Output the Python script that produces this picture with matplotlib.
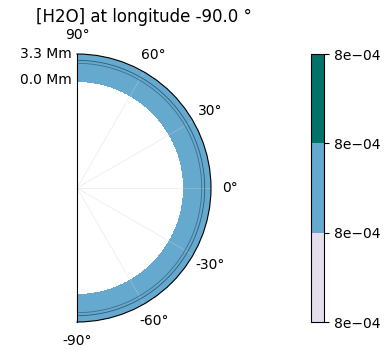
import matplotlib.pyplot as plt
import numpy as np
from matplotlib.colors import ListedColormap, BoundaryNorm

# Altitude levels (Mm above reference radius) and H2O mixing ratio per layer
r_ref = 13.7
alt_edges = [-0.25, 2.12, 2.5, 3.3]
h2o_layers = [8.0e-4, 8.0e-4, 8.0e-4]
lat_edges = np.linspace(-90, 90, 361)

levels = [7.97e-4, 7.99e-4, 8.01e-4, 8.03e-4]
level_labels = ['8e\u221204', '8e\u221204', '8e\u221204', '8e\u221204']
rtick_alts = [0.0, 3.3]
rtick_labels = ['0.0 Mm', '3.3 Mm']

base = plt.get_cmap('PuBuGn')
cmap = ListedColormap([base(1 / 6), base(0.5), base(5 / 6)])
norm = BoundaryNorm(levels, cmap.N)

fig = plt.figure(figsize=(3.9, 3.55), dpi=100)
ax = fig.add_axes([10 / 390, 33 / 355, 268 / 390, 268 / 355], projection='polar')
ax.set_thetamin(-90)
ax.set_thetamax(90)

theta = np.deg2rad(lat_edges)
rr = r_ref + np.array(alt_edges)
T, Rg = np.meshgrid(theta, rr)
C = np.repeat(np.array(h2o_layers)[:, None], len(lat_edges) - 1, axis=1)
mesh = ax.pcolormesh(T, Rg, C, cmap=cmap, norm=norm, shading='flat', antialiased=False)

# thin level lines near the top
th = np.linspace(-np.pi / 2, np.pi / 2, 300)
ax.plot(th, np.full_like(th, r_ref + alt_edges[1]), color='#3d6e8c', lw=0.6)
ax.plot(th, np.full_like(th, r_ref + alt_edges[2]), color='#2f5a72', lw=0.6)

ax.set_rlim(0, r_ref + 3.3)
ax.set_yticks([r_ref + a for a in rtick_alts])
ax.set_yticklabels(rtick_labels)
ax.tick_params(axis='y', labelleft=False, labelright=True, pad=0.5)
ax.set_xticks(np.deg2rad([-90, -60, -30, 0, 30, 60, 90]))
ax.set_xticklabels(['-90°', '-60°', '-30°', '0°', '30°', '60°', '90°'])
ax.grid(color='lightgray', alpha=0.4, lw=0.6)
ax.yaxis.grid(False)
ax.set_title('[H2O] at longitude -90.0 °', x=0.5, y=1.119, pad=0)

cax = fig.add_axes([311 / 390, 33 / 355, 13 / 390, 268 / 355])
cb = fig.colorbar(mesh, cax=cax, ticks=levels)
cb.ax.set_yticklabels(level_labels)

fig.savefig('out.png', dpi=100)
